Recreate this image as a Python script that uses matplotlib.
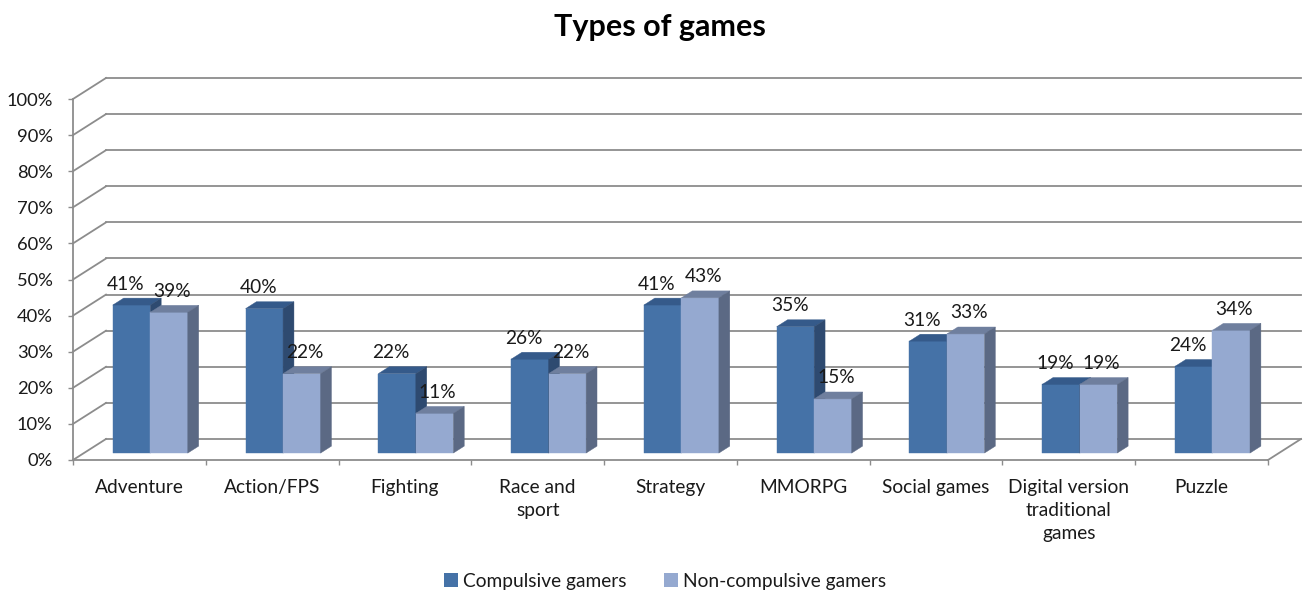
import matplotlib
matplotlib.use("Agg")
import matplotlib.pyplot as plt
from matplotlib.patches import Polygon, Patch

# Survey data: share of each player group that plays each type of game
categories = ["Adventure", "Action/FPS", "Fighting", "Race and\nsport", "Strategy",
              "MMORPG", "Social games", "Digital version\ntraditional\ngames", "Puzzle"]
compulsive = [41, 40, 22, 26, 41, 35, 31, 19, 24]
non_compulsive = [39, 22, 11, 22, 43, 15, 33, 19, 34]
series_names = ["Compulsive gamers", "Non-compulsive gamers"]
y_ticks = list(range(0, 101, 10))
title = "Types of games"

plt.rcParams["font.family"] = ["Lato", "DejaVu Sans"]
TEXT = "#1a1a1a"
GRID = "#8c8c8c"
FS = 13.8

# face colours (front, top, side) for the two series
dark = ("#4572a7", "#355a8a", "#2e4a70")
light = ("#95a9d0", "#6f7f9e", "#5b6984")

fig = plt.figure(figsize=(13.04, 5.92), dpi=100)
ax = fig.add_axes([73 / 1304, 132 / 592, 1195 / 1304, 361 / 592])
ax.set_xlim(0, len(categories))
ax.set_ylim(0, 100)
ax.set_facecolor("none")

# oblique depth vector of the 3D box (data units)
DX, DY = 0.2485, 5.82
D1, D2 = 0.33, 0.66          # bar front / back depth
BAR_W = 0.2825
GAP = (1 - 2 * BAR_W) / 2


def proj(x, y, d):
    return (x + d * DX, y + d * DY)


# side wall and back wall gridlines
n = len(categories)
for t in y_ticks:
    ax.plot([0, DX], [t, t + DY], color=GRID, lw=1.3, clip_on=False, zorder=1)
    ax.plot([DX, n + DX], [t + DY, t + DY], color=GRID, lw=1.3, clip_on=False, zorder=1)
# right edge of the floor
ax.plot([n, n + DX], [0, DY], color=GRID, lw=1.3, clip_on=False, zorder=1)


def box(x0, val, cols):
    x1 = x0 + BAR_W
    front = [proj(x0, 0, D1), proj(x1, 0, D1), proj(x1, val, D1), proj(x0, val, D1)]
    top = [proj(x0, val, D1), proj(x1, val, D1), proj(x1, val, D2), proj(x0, val, D2)]
    side = [proj(x1, 0, D1), proj(x1, 0, D2), proj(x1, val, D2), proj(x1, val, D1)]
    for pts, c in ((front, cols[0]), (top, cols[1]), (side, cols[2])):
        ax.add_patch(Polygon(pts, closed=True, facecolor=c, edgecolor=c, lw=0.3,
                             clip_on=False, zorder=3))


for i in range(n):
    x_dark = i + GAP
    x_light = x_dark + BAR_W
    box(x_dark, compulsive[i], dark)
    box(x_light, non_compulsive[i], light)
    for x0, val, shift in ((x_dark, compulsive[i], 0.038), (x_light, non_compulsive[i], 0.105)):
        lx = x0 + BAR_W / 2 + shift
        ly = val + D2 * DY + 3.9
        ax.text(lx, ly, f"{val}%", ha="center", va="center", fontsize=FS,
                color=TEXT, zorder=5, clip_on=False)

# front axes
for side in ("top", "right"):
    ax.spines[side].set_visible(False)
for side in ("left", "bottom"):
    ax.spines[side].set_color(GRID)
    ax.spines[side].set_linewidth(1.3)
ax.spines["bottom"].set_zorder(2)

ax.set_yticks(y_ticks)
ax.set_yticklabels([f"{t}%" for t in y_ticks])
ax.tick_params(axis="y", direction="out", length=3.6, width=1.0, color=GRID,
               labelsize=13.2, labelcolor=TEXT, pad=11)

ax.set_xticks(range(n + 1))
ax.set_xticklabels([])
ax.set_xticks([i + 0.5 for i in range(n)], minor=True)
ax.set_xticklabels(categories, minor=True)
ax.tick_params(axis="x", which="major", direction="out", length=3.6, width=1.0, color=GRID)
ax.tick_params(axis="x", which="minor", length=0, labelsize=FS, labelcolor=TEXT, pad=13.5)
for lbl in ax.get_xticklabels(minor=True):
    lbl.set_linespacing(1.45)

fig.text(660 / 1304, 1 - 27 / 592, title, ha="center", va="center",
         fontsize=22, fontweight="bold", color="black")

handles = [Patch(facecolor=dark[0], edgecolor="none"), Patch(facecolor=light[0], edgecolor="none")]
fig.legend(handles, series_names, loc="center", bbox_to_anchor=(665 / 1304, 1 - 581 / 592),
           ncol=2, frameon=False, fontsize=FS, handlelength=0.7, handleheight=0.7,
           handletextpad=0.25, columnspacing=2.0, labelcolor=TEXT)

fig.savefig("out.png", dpi=100)
